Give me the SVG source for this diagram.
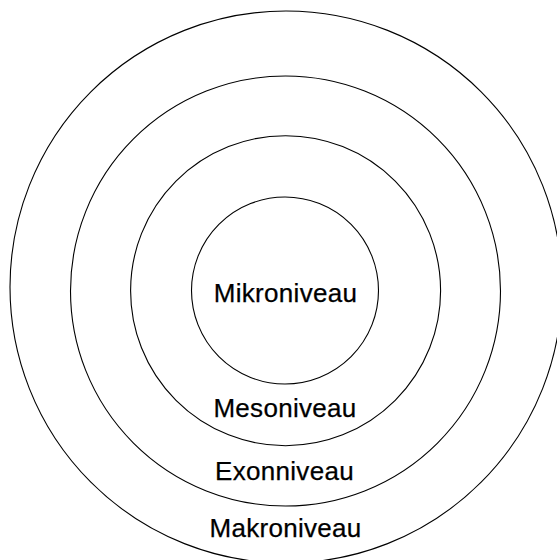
<svg xmlns="http://www.w3.org/2000/svg" width="557" height="560" viewBox="0 0 557 560">
<style>
.ring{fill:none;stroke:#000;stroke-width:1.1}
.lbl{font-family:"Liberation Sans",Arial,sans-serif;font-size:26px;letter-spacing:0.3px;fill:#000;stroke:#000;stroke-width:0.25;text-anchor:middle}
</style>
<rect width="557" height="560" fill="#fff"/>
<g id="makro"><circle class="ring" cx="286" cy="287" r="276"/><text class="lbl" x="285.5" y="537">Makroniveau</text></g>
<g id="exon"><circle class="ring" cx="285.5" cy="291" r="215"/><text class="lbl" x="284.5" y="479.5">Exonniveau</text></g>
<g id="meso"><circle class="ring" cx="285.6" cy="290.7" r="155"/><text class="lbl" x="285" y="416.5">Mesoniveau</text></g>
<g id="mikro"><circle class="ring" cx="285" cy="290.5" r="93.5"/><text class="lbl" x="285.5" y="302">Mikroniveau</text></g>
<g id="connectors"/>
</svg>
